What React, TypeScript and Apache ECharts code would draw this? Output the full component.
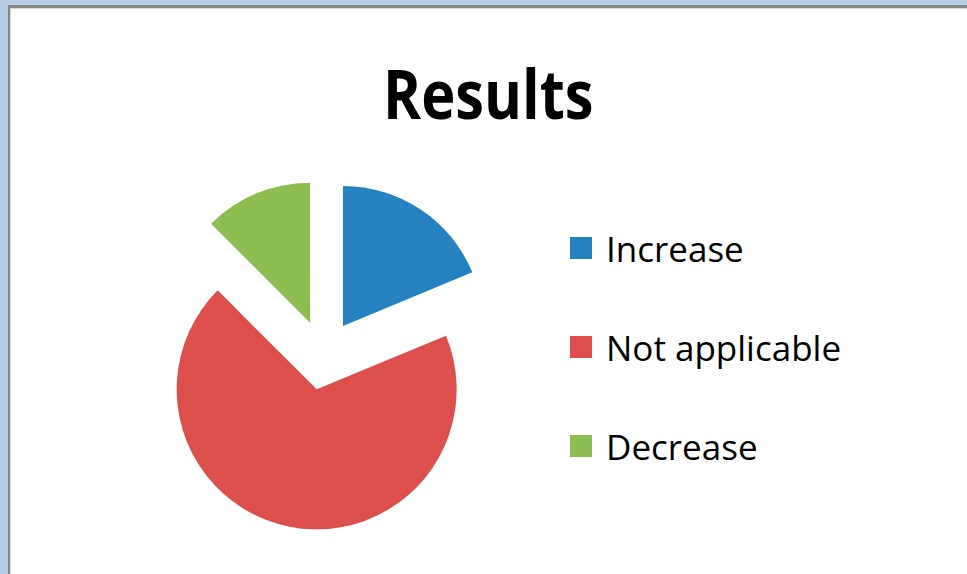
import React, { useEffect, useRef } from "react";
import * as echarts from "echarts";

const categories = ["Increase", "Not applicable", "Decrease"];
const values = [6, 22, 4];
const colors = ["#2581c0", "#dc4f4c", "#8dbc51"];
const chartTitle = "Results";

export default function App() {
  const ref = useRef<HTMLDivElement>(null);
  useEffect(() => {
    if (!ref.current) return;
    const chart = echarts.init(ref.current, null, { renderer: "svg" });
    chart.setOption({
      animation: false,
      backgroundColor: "#b8cce4",
      graphic: [
        { type: "rect", z: -10, shape: { x: 8, y: 5, width: 959, height: 569 }, style: { fill: "#868686" } },
        { type: "rect", z: -9, shape: { x: 10, y: 8, width: 957, height: 566 }, style: { fill: "#d8d8d8" } },
        { type: "rect", z: -8, shape: { x: 11, y: 9, width: 956, height: 565 }, style: { fill: "#ffffff" } },
        {
          type: "text",
          x: 383,
          y: 59,
          scaleX: 0.85,
          style: {
            text: chartTitle,
            x: 0,
            y: 0,
            fill: "#000",
            font: "bold 68px 'Open Sans'",
            textAlign: "left",
            textVerticalAlign: "top",
          },
        },
      ],
      legend: {
        orient: "vertical",
        left: 570,
        top: 228,
        padding: 0,
        icon: "rect",
        itemWidth: 22,
        itemHeight: 22,
        itemGap: 59,
        selectedMode: false,
        data: categories,
        textStyle: { fontFamily: "Open Sans", fontSize: 35, color: "#000", lineHeight: 40, padding: [0, 0, 0, 9] },
      },
      series: [
        {
          type: "pie",
          center: [323.5, 355],
          radius: 140,
          startAngle: 90,
          clockwise: true,
          selectedMode: "multiple",
          selectedOffset: 35,
          label: { show: false },
          labelLine: { show: false },
          emphasis: { disabled: true },
          itemStyle: { borderWidth: 0 },
          data: categories.map((name, i) => ({
            name,
            value: values[i],
            selected: true,
            itemStyle: { color: colors[i] },
          })),
        },
      ],
    });
    return () => chart.dispose();
  }, []);
  return (
    <div
      ref={ref}
      style={{ position: "absolute", left: 0, top: 0, width: 967, height: 574 }}
    />
  );
}
